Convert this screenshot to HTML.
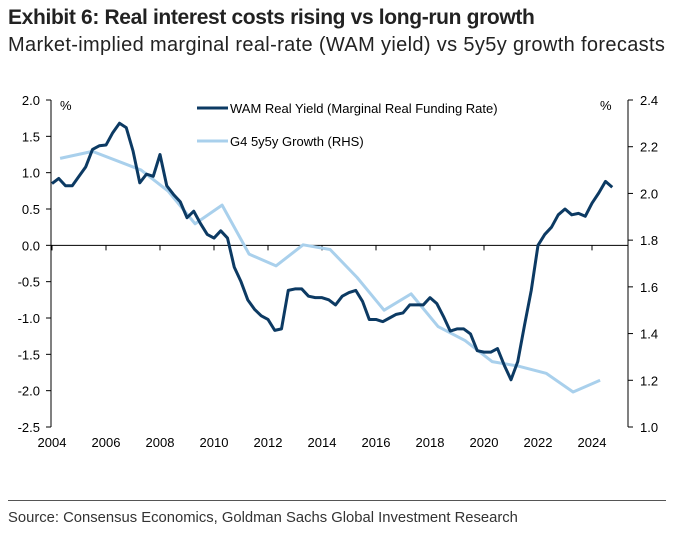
<!DOCTYPE html>
<html><head><meta charset="utf-8"><style>
body{margin:0;background:#fff;width:684px;height:540px;overflow:hidden;font-family:"Liberation Sans",Arial,sans-serif}
#t{position:absolute;left:8px;top:6px;font-size:21px;font-weight:bold;color:#222;letter-spacing:-0.35px}
#s{position:absolute;left:8px;top:34px;font-size:20px;color:#222;letter-spacing:0.35px}
#src{position:absolute;left:8px;top:510px;font-size:14.8px;color:#333}
#rule{position:absolute;left:8px;top:500px;width:658px;height:1px;background:#555}
svg{position:absolute;left:0;top:0}
text{font-family:"Liberation Sans",Arial,sans-serif;font-size:13px;fill:#000}
</style></head><body>
<div id="t">Exhibit 6: Real interest costs rising vs long-run growth</div>
<div id="s">Market-implied marginal real-rate (WAM yield) vs 5y5y growth forecasts</div>
<svg id="c" width="684" height="540"></svg>
<div id="rule"></div>
<div id="src">Source: Consensus Economics, Goldman Sachs Global Investment Research</div>
<script>
const xTicks=[2004,2006,2008,2010,2012,2014,2016,2018,2020,2022,2024];
const leftTicks=[2.0,1.5,1.0,0.5,0.0,-0.5,-1.0,-1.5,-2.0,-2.5];
const rightTicks=[2.4,2.2,2.0,1.8,1.6,1.4,1.2,1.0];
const wamYears=[2004,2004.25,2004.5,2004.75,2005,2005.25,2005.5,2005.75,2006,2006.25,2006.5,2006.75,2007,2007.25,2007.5,2007.75,2008,2008.25,2008.5,2008.75,2009,2009.25,2009.5,2009.75,2010,2010.25,2010.5,2010.75,2011,2011.25,2011.5,2011.75,2012,2012.25,2012.5,2012.75,2013,2013.25,2013.5,2013.75,2014,2014.25,2014.5,2014.75,2015,2015.25,2015.5,2015.75,2016,2016.25,2016.5,2016.75,2017,2017.25,2017.5,2017.75,2018,2018.25,2018.5,2018.75,2019,2019.25,2019.5,2019.75,2020,2020.25,2020.5,2020.75,2021,2021.25,2021.5,2021.75,2022,2022.25,2022.5,2022.75,2023,2023.25,2023.5,2023.75,2024,2024.25,2024.5,2024.75];
const wamValues=[0.85,0.92,0.82,0.82,0.95,1.08,1.32,1.37,1.38,1.55,1.68,1.62,1.3,0.86,0.98,0.95,1.25,0.82,0.7,0.6,0.38,0.47,0.3,0.15,0.1,0.2,0.1,-0.3,-0.5,-0.75,-0.88,-0.97,-1.02,-1.17,-1.15,-0.62,-0.6,-0.6,-0.7,-0.72,-0.72,-0.75,-0.82,-0.7,-0.65,-0.62,-0.77,-1.02,-1.02,-1.05,-1.0,-0.95,-0.93,-0.82,-0.82,-0.82,-0.72,-0.8,-0.98,-1.18,-1.15,-1.15,-1.22,-1.45,-1.47,-1.47,-1.42,-1.65,-1.85,-1.6,-1.1,-0.62,0.0,0.15,0.25,0.42,0.5,0.42,0.44,0.4,0.58,0.72,0.88,0.8];
const g4Years=[2004.3,2005.5,2007.3,2008.3,2009.3,2010.3,2011.3,2012.3,2013.3,2014.3,2015.3,2016.3,2017.3,2018.3,2019.3,2020.3,2021.3,2022.3,2023.3,2024.3];
const g4Values=[2.15,2.18,2.1,2.01,1.87,1.95,1.74,1.69,1.78,1.76,1.64,1.5,1.57,1.43,1.37,1.28,1.26,1.23,1.15,1.2];

const svg=document.getElementById('c');const NS='http://www.w3.org/2000/svg';
const X=y=>52+(y-2004)*27;
const YL=v=>100+(2.0-v)*(327/4.5);
const YR=v=>100+(2.4-v)*(327/1.4);
function el(t,a,p){const e=document.createElementNS(NS,t);for(const k in a)e.setAttribute(k,a[k]);(p||svg).appendChild(e);return e;}
let a=el('line',{x1:51,y1:100,x2:51,y2:427,stroke:'#000','stroke-width':1});


a=el('line',{x1:628,y1:100,x2:628,y2:427,stroke:'#000','stroke-width':1});


a=el('line',{x1:51,y1:YL(0),x2:628,y2:YL(0),stroke:'#000','stroke-width':1});


leftTicks.forEach(v=>{el('line',{x1:46,y1:YL(v),x2:51,y2:YL(v),stroke:'#000'});
 const t=el('text',{x:40,y:YL(v)+5,'text-anchor':'end'});t.textContent=v.toFixed(1);
 
 });
rightTicks.forEach(v=>{el('line',{x1:628,y1:YR(v),x2:633,y2:YR(v),stroke:'#000'});
 const t=el('text',{x:640,y:YR(v)+5});t.textContent=v.toFixed(1);
 
 });
xTicks.forEach(y=>{el('line',{x1:X(y),y1:YL(0),x2:X(y),y2:YL(0)+5,stroke:'#000'});
 const t=el('text',{x:X(y),y:447,'text-anchor':'middle'});t.textContent=y;
 
 });
let u=el('text',{x:60,y:110});u.textContent='%';


u=el('text',{x:600,y:110});u.textContent='%';


let p=el('polyline',{points:g4Years.map((y,i)=>X(y)+','+YR(g4Values[i])).join(' '),fill:'none',stroke:'#a9d0ec','stroke-width':3,'stroke-linejoin':'round'});


p=el('polyline',{points:wamYears.map((y,i)=>X(y)+','+YL(wamValues[i])).join(' '),fill:'none',stroke:'#0c3a63','stroke-width':3,'stroke-linejoin':'round'});


let g=el('g',{});

el('line',{x1:197,y1:108,x2:228,y2:108,stroke:'#0c3a63','stroke-width':3},g);
let lt=el('text',{x:230,y:113},g);lt.textContent='WAM Real Yield (Marginal Real Funding Rate)';
g=el('g',{});

el('line',{x1:197,y1:141,x2:228,y2:141,stroke:'#a9d0ec','stroke-width':3},g);
lt=el('text',{x:230,y:146},g);lt.textContent='G4 5y5y Growth (RHS)';
</script>
</body></html>
